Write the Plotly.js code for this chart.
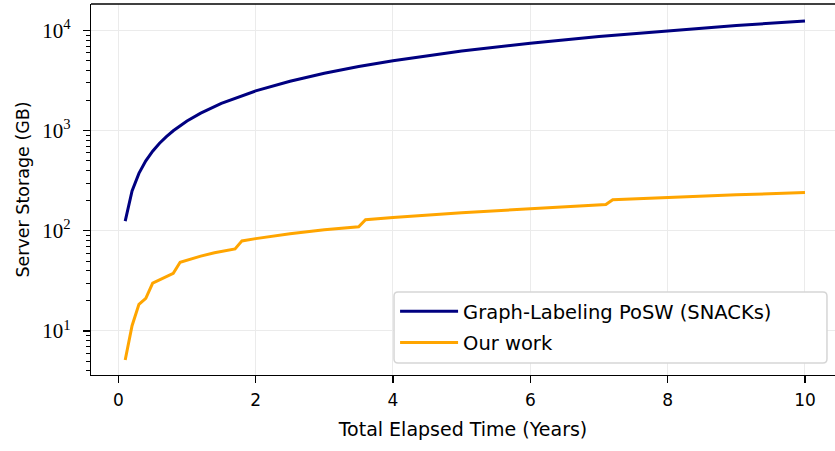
<!DOCTYPE html>
<html>
<head>
<meta charset="utf-8">
<script src="https://cdn.plot.ly/plotly-3.0.1.min.js"></script>
<style>html,body{margin:0;padding:0;background:#fff;}#chart{width:835px;height:451px;}</style>
</head>
<body>
<div id="chart"></div>
<script>
// Graph-Labeling PoSW (SNACKs)
const snacksYears = [0.1,0.2,0.3,0.4,0.5,0.6,0.7,0.8,1.0,1.2,1.5,2,2.5,3,3.5,4,5,6,7,8,9,10];
const snacksGB    = [125,250,375,500,625,750,875,1000,1250,1500,1875,2500,3125,3750,4375,5000,6250,7500,8750,10000,11250,12500];
// Our work
const oursYears = [0.1,0.2,0.3,0.4,0.5,0.8,0.9,1.0,1.2,1.4,1.7,1.8,2.0,2.5,3.0,3.5,3.6,4,5,6,7.1,7.2,8,9,10];
const oursGB    = [5.13,11.3,18.5,21.2,30,37.7,48.6,51.2,56,60.5,66,79.4,83.7,93.6,102.5,110,129,136,152,166,183,205,216,229,241];

const seriesNames = ['Graph-Labeling PoSW (SNACKs)', 'Our work'];
const xTickVals = [0,2,4,6,8,10];
const yTickVals = [10,100,1000,10000];
const yTickText = ['10<sup>1</sup>','10<sup>2</sup>','10<sup>3</sup>','10<sup>4</sup>'];
const yMinorVals = [4,5,6,7,8,9,20,30,40,50,60,70,80,90,200,300,400,500,600,700,800,900,2000,3000,4000,5000,6000,7000,8000,9000];

const SANS = '"DejaVu Sans", sans-serif';
const SERIF = '"Liberation Serif", "DejaVu Serif", serif';

const traces = [
  {x: snacksYears, y: snacksGB, name: seriesNames[0], mode: 'lines', legendgroup: 'a',
   line: {color: '#000080', width: 3}},
  {x: oursYears, y: oursGB, name: seriesNames[1], mode: 'lines', legendgroup: 'b',
   line: {color: '#FFA500', width: 3}}
];

// rounded legend frame (paper coords)
const lx0 = 0.4073, lx1 = 0.9892, ly0 = 0.0323, ly1 = 0.2237, rx = 0.0054, ry = 0.0108;
const framePath = `M${lx0+rx},${ly1} L${lx1-rx},${ly1} Q${lx1},${ly1} ${lx1},${ly1-ry} L${lx1},${ly0+ry} Q${lx1},${ly0} ${lx1-rx},${ly0} L${lx0+rx},${ly0} Q${lx0},${ly0} ${lx0},${ly0+ry} L${lx0},${ly1-ry} Q${lx0},${ly1} ${lx0+rx},${ly1} Z`;

const layout = {
  width: 835, height: 451,
  margin: {l: 91, r: 0, t: 4, b: 76},
  paper_bgcolor: '#fff', plot_bgcolor: '#fff',
  font: {family: SANS, color: '#000'},
  showlegend: true,
  legend: {x: 0.4087, y: 0.2237, xanchor: 'left', yanchor: 'top',
           bgcolor: 'rgba(0,0,0,0)', borderwidth: 0, itemwidth: 58,
           font: {family: SANS, size: 19.5, color: '#000'},
           traceorder: 'grouped', tracegroupgap: 3},
  xaxis: {
    range: [-0.398, 10.437], tickvals: xTickVals,
    ticks: 'outside', ticklen: 7, tickwidth: 1.2, tickcolor: '#000',
    ticklabelstandoff: 2,
    showline: true, linecolor: '#000', linewidth: 1.3,
    showgrid: true, gridcolor: '#ebebeb', gridwidth: 1, zeroline: false,
    tickfont: {family: SANS, size: 17},
    title: {text: 'Total Elapsed Time (Years)', font: {family: SANS, size: 19}, standoff: 14}
  },
  yaxis: {
    type: 'log', range: [0.5604, 4.266],
    tickvals: yTickVals, ticktext: yTickText,
    ticks: 'outside', ticklen: 7, tickwidth: 1.2, tickcolor: '#000',
    ticklabelstandoff: 8,
    showline: true, linecolor: '#000', linewidth: 1.3,
    showgrid: true, gridcolor: '#ebebeb', gridwidth: 1, zeroline: false,
    tickfont: {family: SERIF, size: 21},
    minor: {tickvals: yMinorVals, ticks: 'outside', ticklen: 3.5, tickwidth: 1, tickcolor: '#000', showgrid: false},
    title: {text: 'Server Storage (GB)', font: {family: SANS, size: 17.5}, standoff: 8}
  },
  shapes: [
    {type: 'line', xref: 'paper', yref: 'paper', x0: 0, x1: 1, y0: 1, y1: 1,
     line: {color: '#000', width: 1.3}},
    {type: 'path', xref: 'paper', yref: 'paper', path: framePath, layer: 'above',
     fillcolor: '#ffffff', line: {color: '#d6d6d6', width: 1.5}}
  ]
};

Plotly.newPlot('chart', traces, layout, {staticPlot: true, displayModeBar: false});
</script>
</body>
</html>
